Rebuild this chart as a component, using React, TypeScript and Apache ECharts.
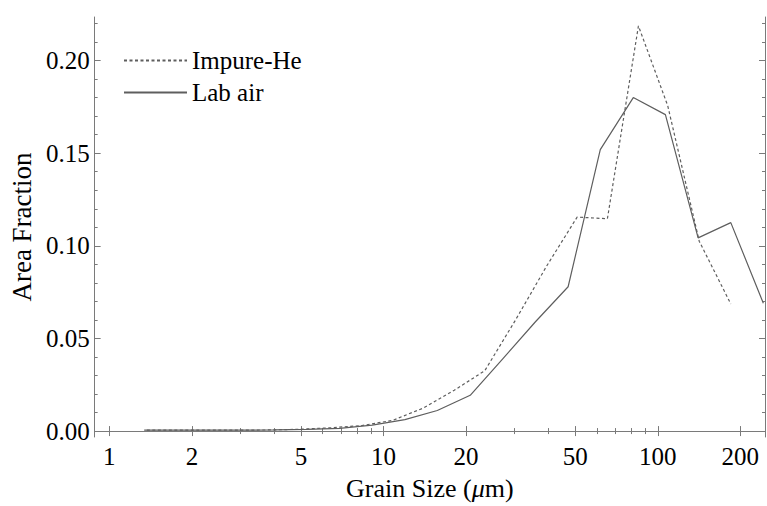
import { useEffect, useRef } from "react";
import * as echarts from "echarts";

// Grain-size bins (µm) and measured area fractions, one pair of arrays per environment
const impureHeSize = [1.37, 1.78, 2.3, 2.98, 3.85, 4.99, 6.45, 8.35, 10.8, 14.0, 18.1, 23.4, 30.3, 39.3, 50.8, 65.5, 85.0, 108.7, 141.6, 184.6];
const impureHeFraction = [0.0005, 0.0005, 0.0005, 0.0005, 0.0006, 0.001, 0.0018, 0.003, 0.0058, 0.0125, 0.022, 0.0326, 0.06, 0.089, 0.1155, 0.1146, 0.2187, 0.1756, 0.1025, 0.0686];

const labAirSize = [1.34, 1.76, 2.31, 3.04, 4.0, 5.26, 6.91, 9.09, 11.96, 15.7, 20.7, 27.2, 35.8, 47.1, 61.7, 81.4, 106.6, 140.3, 184.6, 242.6];
const labAirFraction = [0.0005, 0.0005, 0.0005, 0.0005, 0.0006, 0.0009, 0.0015, 0.0032, 0.0062, 0.0111, 0.0193, 0.039, 0.059, 0.0779, 0.1519, 0.18, 0.1708, 0.1043, 0.1125, 0.069];

// Axis ticks and labels
const xMajorTicks = [1, 2, 5, 10, 20, 50, 100, 200];
const xMinorTicks = [3, 4, 6, 7, 8, 9, 30, 40, 60, 70, 80, 90];
const yMajorTicks = [0, 0.05, 0.1, 0.15, 0.2];
const yMinorTicks = [0.01, 0.02, 0.03, 0.04, 0.06, 0.07, 0.08, 0.09, 0.11, 0.12, 0.13, 0.14, 0.16, 0.17, 0.18, 0.19, 0.21, 0.22];

const X_MIN = 0.884;
const X_MAX = 246;
const Y_MIN = -0.0032;
const Y_MAX = 0.2235;

const FONT = "Liberation Serif, DejaVu Serif, serif";
const FRAME = "#7a7a7a";
const LINE = "#5e5e5e";

function pairs(xs: number[], ys: number[]) {
  return xs.map((x, i) => [x, ys[i]]);
}

function xAxis(position: "top" | "bottom", ticks: number[], len: number, main: boolean) {
  return {
    type: "log",
    logBase: 10,
    min: X_MIN,
    max: X_MAX,
    position,
    splitLine: { show: false },
    axisLine: { show: main, lineStyle: { color: FRAME, width: 1 } },
    axisTick: {
      show: true,
      inside: true,
      length: len,
      customValues: ticks,
      lineStyle: { color: FRAME, width: 1 },
    },
    axisLabel: { show: false },
  };
}

function yAxis(position: "left" | "right", ticks: number[], len: number, main: boolean) {
  return {
    type: "value",
    min: Y_MIN,
    max: Y_MAX,
    position,
    splitLine: { show: false },
    axisLine: { show: main, lineStyle: { color: FRAME, width: 1 } },
    axisTick: {
      show: true,
      inside: true,
      length: len,
      customValues: ticks,
      lineStyle: { color: FRAME, width: 1 },
    },
    axisLabel: { show: false },
  };
}

export default function App() {
  const ref = useRef<HTMLDivElement>(null);

  useEffect(() => {
    if (!ref.current) return;
    const chart = echarts.init(ref.current, undefined, { renderer: "svg" });

    const bottomMain: any = xAxis("bottom", xMajorTicks, 5, true);
    bottomMain.axisLabel = {
      show: true,
      customValues: xMajorTicks,
      margin: 7,
      fontFamily: FONT,
      fontSize: 25,
      color: "#000",
      formatter: (v: number) => String(Math.round(v)),
    };
    bottomMain.name = "{n|Grain Size (}{i|μ}{n|m)}";
    bottomMain.nameLocation = "middle";
    bottomMain.nameGap = 38;
    bottomMain.nameTextStyle = {
      fontFamily: FONT,
      fontSize: 26,
      color: "#000",
      rich: {
        n: { fontFamily: FONT, fontSize: 26, color: "#000" },
        i: { fontFamily: FONT, fontSize: 26, color: "#000", fontStyle: "italic" },
      },
    };

    const leftMain: any = yAxis("left", yMajorTicks, 6, true);
    leftMain.axisLabel = {
      show: true,
      customValues: yMajorTicks,
      margin: 5,
      fontFamily: FONT,
      fontSize: 25,
      color: "#000",
      formatter: (v: number) => v.toFixed(2),
    };
    leftMain.name = "Area Fraction";
    leftMain.nameLocation = "middle";
    leftMain.nameRotate = 90;
    leftMain.nameGap = 57;
    leftMain.nameTextStyle = { fontFamily: FONT, fontSize: 27, color: "#000" };

    chart.setOption({
      animation: false,
      backgroundColor: "#fff",
      grid: { left: 91, right: 2, top: 17, bottom: 65, containLabel: false },
      legend: {
        orient: "vertical",
        left: 123,
        top: 48,
        padding: 0,
        itemWidth: 63,
        itemHeight: 12,
        itemGap: 7,
        itemStyle: { opacity: 0, borderWidth: 0 },
        textStyle: { fontFamily: FONT, fontSize: 25, color: "#000" },
        data: ["Impure-He", "Lab air"],
      },
      xAxis: [
        bottomMain,
        xAxis("bottom", xMinorTicks, 3, false),
        xAxis("top", xMajorTicks, 5, true),
        xAxis("top", xMinorTicks, 3, false),
      ],
      yAxis: [
        leftMain,
        yAxis("left", yMinorTicks, 3, false),
        yAxis("right", yMajorTicks, 6, true),
        yAxis("right", yMinorTicks, 3, false),
      ],
      series: [
        {
          name: "Impure-He",
          type: "line",
          xAxisIndex: 0,
          yAxisIndex: 0,
          data: pairs(impureHeSize, impureHeFraction),
          symbol: "none",
          showSymbol: false,
          itemStyle: { color: LINE },
          lineStyle: { color: LINE, width: 1.2, type: [3, 2.5] },
        },
        {
          name: "Lab air",
          type: "line",
          xAxisIndex: 0,
          yAxisIndex: 0,
          data: pairs(labAirSize, labAirFraction),
          symbol: "none",
          showSymbol: false,
          itemStyle: { color: LINE },
          lineStyle: { color: LINE, width: 1.2, type: "solid" },
        },
      ],
    });

    return () => chart.dispose();
  }, []);

  return (
    <div
      ref={ref}
      style={{ position: "fixed", left: 0, top: 0, width: 767, height: 506, background: "#fff" }}
    />
  );
}
